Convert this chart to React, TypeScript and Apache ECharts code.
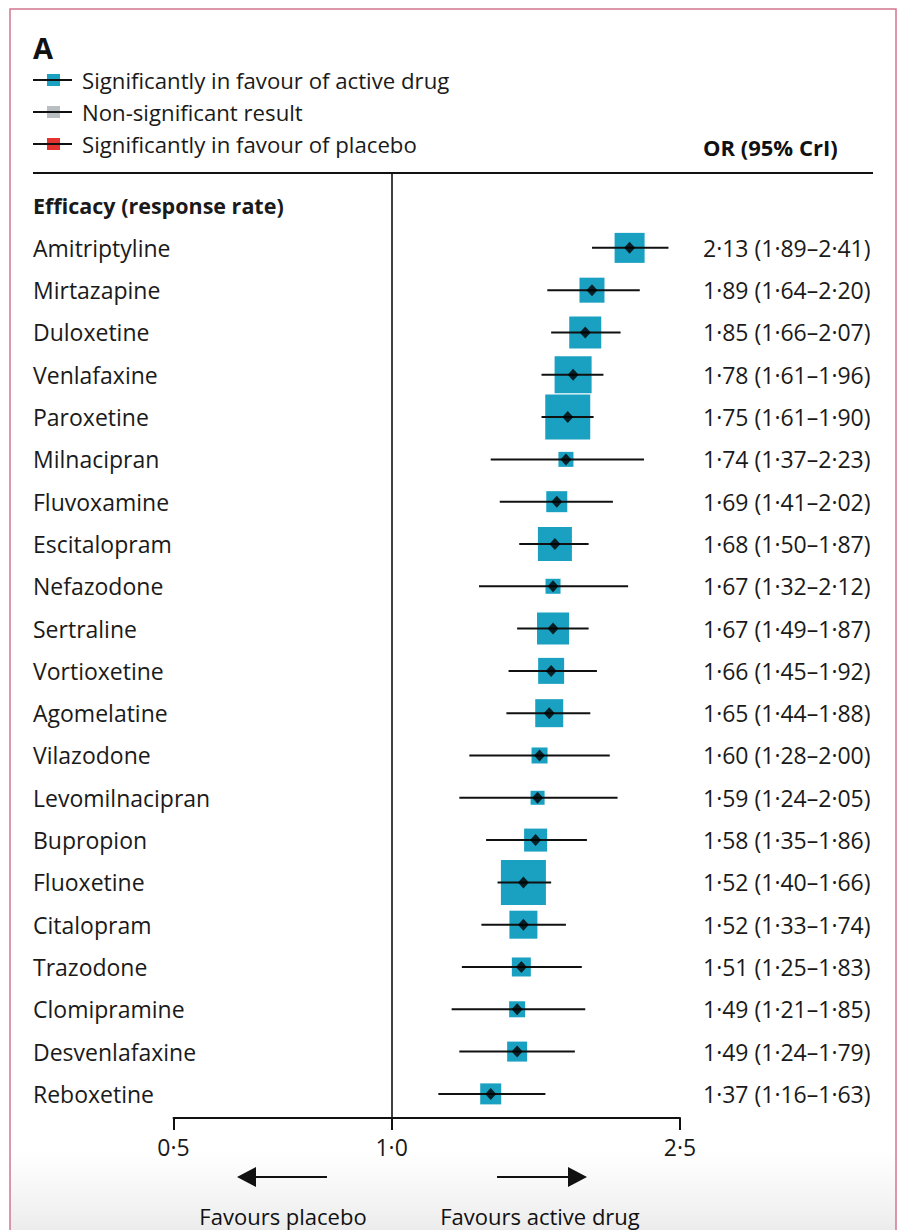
import React, { useEffect, useRef } from "react";
import * as echarts from "echarts";

const drugs = [
  "Amitriptyline", "Mirtazapine", "Duloxetine", "Venlafaxine", "Paroxetine",
  "Milnacipran", "Fluvoxamine", "Escitalopram", "Nefazodone", "Sertraline",
  "Vortioxetine", "Agomelatine", "Vilazodone", "Levomilnacipran", "Bupropion",
  "Fluoxetine", "Citalopram", "Trazodone", "Clomipramine", "Desvenlafaxine",
  "Reboxetine",
];
const oddsRatio = [2.13, 1.89, 1.85, 1.78, 1.75, 1.74, 1.69, 1.68, 1.67, 1.67, 1.66, 1.65, 1.60, 1.59, 1.58, 1.52, 1.52, 1.51, 1.49, 1.49, 1.37];
const lower = [1.89, 1.64, 1.66, 1.61, 1.61, 1.37, 1.41, 1.50, 1.32, 1.49, 1.45, 1.44, 1.28, 1.24, 1.35, 1.40, 1.33, 1.25, 1.21, 1.24, 1.16];
const upper = [2.41, 2.20, 2.07, 1.96, 1.90, 2.23, 2.02, 1.87, 2.12, 1.87, 1.92, 1.88, 2.00, 2.05, 1.86, 1.66, 1.74, 1.83, 1.85, 1.79, 1.63];
// relative study weight (drawn as square side)
const weights = [30, 25, 32, 37, 45, 15, 21, 34, 15, 32, 26, 28, 16, 14, 23, 45, 28, 19, 16, 20, 21];
const xTicks = [0.5, 1.0, 2.5];

const legendItems = [
  { label: "Significantly in favour of active drug", color: "#1aa0c1" },
  { label: "Non-significant result", color: "#b9bec2" },
  { label: "Significantly in favour of placebo", color: "#e4332f" },
];

const FONT = "'Open Sans', sans-serif";
const fmt = (v: number) => v.toFixed(2).replace(".", "\u00b7");

export default function App() {
  const ref = useRef<HTMLDivElement>(null);
  useEffect(() => {
    if (!ref.current) return;
    const chart = echarts.init(ref.current, undefined, { renderer: "svg" });
    const idx = drugs.map((_, i) => i);
    const ciText = drugs.map((_, i) => `${fmt(oddsRatio[i])} (${fmt(lower[i])}\u2013${fmt(upper[i])})`);
    const tickVals = xTicks.map((t) => Math.log(t));

    const legendGraphics: any[] = [];
    legendItems.forEach((it, k) => {
      const y = 80 + k * 32;
      legendGraphics.push({ type: "rect", shape: { x: 47, y: y - 6, width: 13, height: 12 }, style: { fill: it.color } });
      legendGraphics.push({ type: "line", shape: { x1: 33, y1: y, x2: 72, y2: y }, style: { stroke: "#111", lineWidth: 2 } });
      legendGraphics.push({ type: "text", x: 82, y, style: { text: it.label, font: `22.2px ${FONT}`, fill: "#1a1a1a", textVerticalAlign: "middle", textAlign: "left" } });
    });

    const option: any = {
      animation: false,
      backgroundColor: "#ffffff",
      grid: { left: 173.5, right: 228, top: 173, bottom: 112, containLabel: false },
      xAxis: {
        type: "value",
        min: Math.log(0.5),
        max: Math.log(2.5),
        axisLine: { show: true, onZero: false, lineStyle: { color: "#111", width: 2 } },
        axisTick: { show: true, customValues: tickVals, length: 12, lineStyle: { color: "#111", width: 2 } },
        axisLabel: {
          show: true,
          customValues: tickVals,
          margin: 17,
          fontFamily: FONT,
          fontSize: 23,
          color: "#1a1a1a",
          formatter: (v: number) => Math.exp(v).toFixed(1).replace(".", "\u00b7"),
        },
        splitLine: { show: false },
      },
      yAxis: [
        {
          type: "value",
          inverse: true,
          min: -1.77,
          max: 20.57,
          position: "left",
          axisLine: { show: false },
          axisTick: { show: false },
          splitLine: { show: false },
          axisLabel: {
            show: true,
            customValues: [-1, ...idx],
            align: "left",
            margin: 140.5,
            fontFamily: FONT,
            fontSize: 23,
            color: "#1a1a1a",
            formatter: (v: number) => {
              const r = Math.round(v);
              return r < 0 ? "{h|Efficacy (response rate)}" : drugs[r];
            },
            rich: { h: { fontFamily: FONT, fontSize: 21.5, fontWeight: "bold", color: "#1a1a1a" } },
          },
        },
        {
          type: "value",
          inverse: true,
          min: -1.77,
          max: 20.57,
          position: "right",
          axisLine: { show: false },
          axisTick: { show: false },
          splitLine: { show: false },
          axisLabel: {
            show: true,
            customValues: idx,
            align: "left",
            margin: 23,
            fontFamily: FONT,
            fontSize: 23,
            color: "#1a1a1a",
            formatter: (v: number) => ciText[Math.round(v)],
          },
        },
      ],
      series: [
        {
          type: "scatter",
          name: "weight",
          symbol: "rect",
          data: idx.map((i) => [Math.log(oddsRatio[i]), i]),
          symbolSize: (_v: any, p: any) => weights[p.dataIndex],
          itemStyle: { color: "#1aa0c1", opacity: 1 },
          z: 2,
          markLine: {
            silent: true,
            symbol: "none",
            label: { show: false },
            lineStyle: { color: "#111", width: 1.6, type: "solid" },
            data: [{ xAxis: 0 }],
          },
        },
        {
          type: "custom",
          name: "interval",
          data: idx.map((i) => [Math.log(lower[i]), Math.log(upper[i]), i]),
          renderItem: (_params: any, api: any) => {
            const a = api.coord([api.value(0), api.value(2)]);
            const b = api.coord([api.value(1), api.value(2)]);
            return {
              type: "line",
              shape: { x1: a[0], y1: a[1], x2: b[0], y2: b[1] },
              style: { stroke: "#111", lineWidth: 2 },
            };
          },
          z: 3,
        },
        {
          type: "scatter",
          name: "estimate",
          symbol: "diamond",
          symbolSize: [11, 12],
          data: idx.map((i) => [Math.log(oddsRatio[i]), i]),
          itemStyle: { color: "#000" },
          z: 4,
        },
      ],
      graphic: [
        {
          type: "rect",
          z: -10,
          shape: { x: 10, y: 1150, width: 886, height: 80 },
          style: {
            fill: new echarts.graphic.LinearGradient(0, 0, 0, 1, [
              { offset: 0, color: "rgba(240,240,240,0)" },
              { offset: 1, color: "rgba(236,236,236,1)" },
            ]),
          },
        },
        { type: "rect", shape: { x: 10, y: 9, width: 886, height: 1240 }, style: { fill: "none", stroke: "#d27590", lineWidth: 1.5 } },
        { type: "text", x: 33, y: 47, style: { text: "A", font: `bold 29px ${FONT}`, fill: "#111", textVerticalAlign: "middle" } },
        ...legendGraphics,
        { type: "text", x: 703, y: 147, style: { text: "OR (95% CrI)", font: `bold 22px ${FONT}`, fill: "#111", textVerticalAlign: "middle" } },
        { type: "line", shape: { x1: 33, y1: 173, x2: 873, y2: 173 }, style: { stroke: "#111", lineWidth: 2 } },
        // arrows
        { type: "line", shape: { x1: 327, y1: 1177, x2: 252, y2: 1177 }, style: { stroke: "#111", lineWidth: 2 } },
        { type: "polygon", shape: { points: [[237, 1177], [256, 1167], [256, 1187]] }, style: { fill: "#111" } },
        { type: "line", shape: { x1: 497, y1: 1177, x2: 572, y2: 1177 }, style: { stroke: "#111", lineWidth: 2 } },
        { type: "polygon", shape: { points: [[587, 1177], [568, 1167], [568, 1187]] }, style: { fill: "#111" } },
        { type: "text", x: 283, y: 1216, style: { text: "Favours placebo", font: `22px ${FONT}`, fill: "#111", textAlign: "center", textVerticalAlign: "middle" } },
        { type: "text", x: 540, y: 1216, style: { text: "Favours active drug", font: `22px ${FONT}`, fill: "#111", textAlign: "center", textVerticalAlign: "middle" } },
      ],
    };
    chart.setOption(option);
    return () => chart.dispose();
  }, []);
  return <div ref={ref} style={{ position: "absolute", left: 0, top: 0, width: 908, height: 1230 }} />;
}
